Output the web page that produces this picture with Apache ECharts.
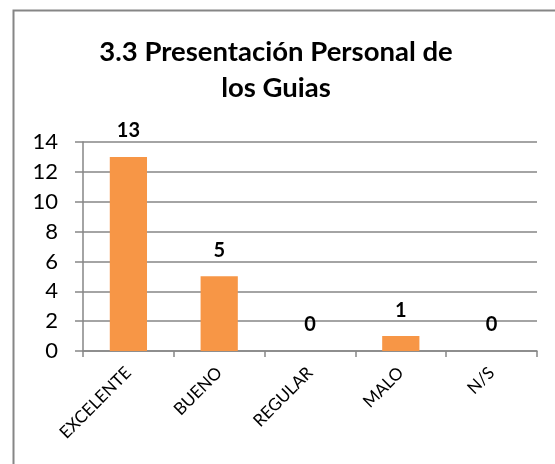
<!DOCTYPE html>
<html>
<head>
<meta charset="utf-8">
<script src="https://cdn.jsdelivr.net/npm/echarts@6/dist/echarts.min.js"></script>
<style>
  html, body { margin: 0; padding: 0; background: #fff; }
  #chart { width: 555px; height: 464px; }
</style>
</head>
<body>
<div id="chart"></div>
<script>
// datos
const categories = ['EXCELENTE', 'BUENO', 'REGULAR', 'MALO', 'N/S'];
const values = [13, 5, 0, 1, 0];
const yTicks = { min: 0, max: 14, interval: 2 };
const titleText = '3.3 Presentación Personal de\nlos Guias';

const FONT = 'Lato, Carlito, Calibri, sans-serif';
const GRAY = '#868686';

const chart = echarts.init(document.getElementById('chart'), null, { renderer: 'canvas' });

chart.setOption({
  animation: false,
  backgroundColor: '#fff',
  title: {
    text: titleText,
    left: 271,
    top: 29,
    textAlign: 'center',
    textStyle: {
      fontFamily: FONT,
      fontWeight: 'bold',
      fontSize: 27.5,
      lineHeight: 36,
      color: '#000',
    },
  },
  graphic: [
    {
      type: 'rect',
      shape: { x: 13.5, y: 10.5, width: 600, height: 500 },
      style: { fill: 'none', stroke: GRAY, lineWidth: 2 },
      z: 0,
    },
  ],
  grid: { left: 83, top: 142, right: 18, bottom: 113, containLabel: false },
  xAxis: {
    type: 'category',
    data: categories,
    axisLine: { show: true, lineStyle: { color: GRAY, width: 1.5 } },
    axisTick: { show: true, length: 6, lineStyle: { color: GRAY, width: 1.5 } },
    axisLabel: {
      rotate: 45,
      margin: 19,
      fontFamily: FONT,
      fontSize: 17,
      color: '#000',
    },
  },
  yAxis: {
    type: 'value',
    min: yTicks.min,
    max: yTicks.max,
    interval: yTicks.interval,
    axisLine: { show: true, lineStyle: { color: GRAY, width: 1.5 } },
    axisTick: { show: true, length: 8, lineStyle: { color: GRAY, width: 1.5 } },
    splitLine: { show: true, lineStyle: { color: GRAY, width: 1.5 } },
    axisLabel: {
      margin: 25,
      fontFamily: FONT,
      fontSize: 22,
      color: '#000',
    },
  },
  series: [
    {
      type: 'bar',
      data: values,
      barWidth: '41%',
      itemStyle: { color: '#F79646' },
      label: {
        show: true,
        position: 'top',
        distance: 16,
        fontFamily: FONT,
        fontWeight: 'bold',
        fontSize: 20,
        color: '#000',
      },
    },
  ],
});
</script>
</body>
</html>
